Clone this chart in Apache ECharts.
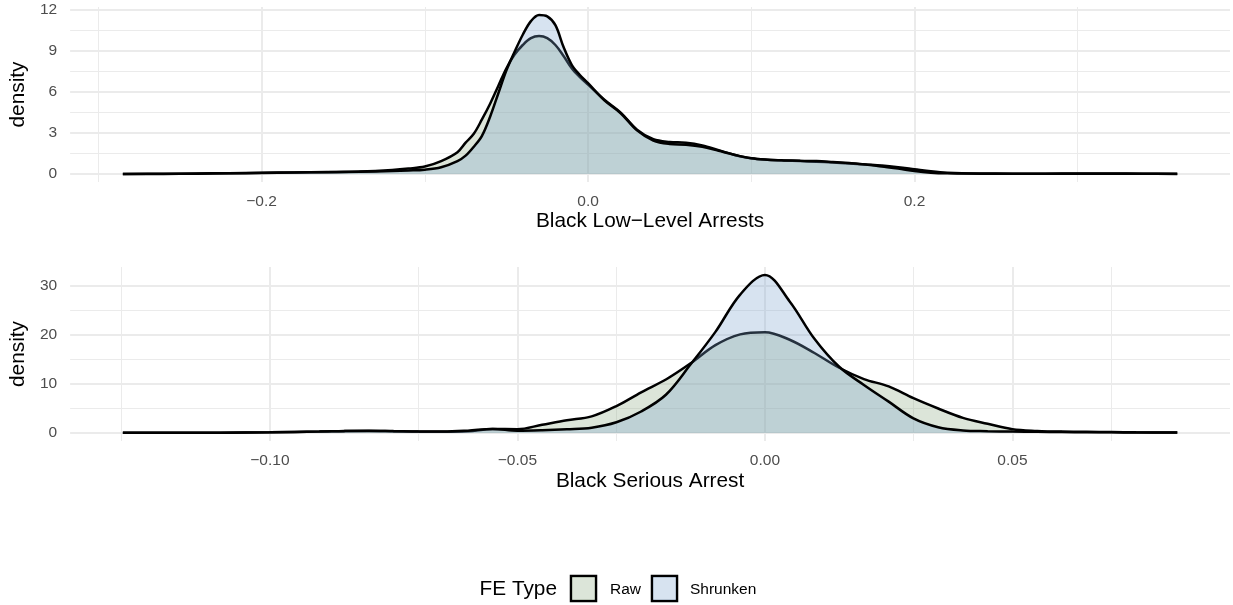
<!DOCTYPE html>
<html>
<head>
<meta charset="utf-8">
<script src="https://cdn.jsdelivr.net/npm/echarts@6/dist/echarts.min.js"></script>
<style>
  html, body { margin: 0; padding: 0; background: #ffffff; }
  #chart { width: 1233px; height: 605px; }
</style>
</head>
<body>
<div id="chart"></div>
<script>
// ---- Black Low-Level Arrests: density estimates of the fixed effects ----
const lowX = [-0.285, -0.26, -0.24, -0.22, -0.20, -0.18, -0.16, -0.14, -0.12, -0.11, -0.10, -0.09, -0.08, -0.075,
  -0.07, -0.065, -0.06, -0.055, -0.05, -0.045, -0.04, -0.035, -0.03, -0.025, -0.02, -0.015, -0.01, -0.005, 0.0,
  0.01, 0.02, 0.03, 0.04, 0.05, 0.06, 0.07, 0.08, 0.09, 0.10, 0.11, 0.12, 0.13, 0.14, 0.15, 0.16, 0.17, 0.18,
  0.19, 0.20, 0.21, 0.22, 0.24, 0.26, 0.28, 0.30, 0.32, 0.34, 0.361];
const lowRaw = [0.01, 0.02, 0.04, 0.06, 0.09, 0.12, 0.15, 0.19, 0.30, 0.40, 0.55, 0.95, 1.6, 2.3,
  2.95, 4.0, 5.15, 6.45, 7.75, 8.75, 9.45, 9.95, 10.1, 9.95, 9.45, 8.65, 7.75, 7.1, 6.55,
  5.45, 4.5, 3.25, 2.55, 2.35, 2.3, 2.1, 1.75, 1.4, 1.15, 1.05, 1.0, 0.95, 0.9, 0.85, 0.78, 0.7, 0.62,
  0.5, 0.35, 0.2, 0.1, 0.04, 0.03, 0.03, 0.04, 0.04, 0.03, 0.02];
const lowShrunken = [0.0, 0.01, 0.03, 0.05, 0.08, 0.11, 0.14, 0.17, 0.22, 0.26, 0.32, 0.5, 0.95, 1.35,
  2.0, 2.8, 4.2, 5.9, 7.6, 8.95, 10.2, 11.2, 11.65, 11.55, 10.9, 9.3, 8.0, 7.25, 6.65,
  5.4, 4.45, 3.2, 2.45, 2.2, 2.15, 2.0, 1.7, 1.4, 1.15, 1.05, 1.0, 0.97, 0.95, 0.88, 0.8, 0.7, 0.55,
  0.4, 0.22, 0.1, 0.05, 0.03, 0.02, 0.03, 0.03, 0.03, 0.02, 0.01];

// ---- Black Serious Arrest ----
const seriousX = [-0.1297, -0.12, -0.11, -0.10, -0.09, -0.085, -0.08, -0.075, -0.07, -0.065, -0.06, -0.055,
  -0.05, -0.045, -0.04, -0.035, -0.03, -0.025, -0.02, -0.015, -0.01, -0.005, 0.0, 0.005, 0.01, 0.015, 0.02,
  0.025, 0.03, 0.035, 0.04, 0.045, 0.05, 0.055, 0.06, 0.065, 0.07, 0.075, 0.0833];
const seriousRaw = [0.05, 0.05, 0.08, 0.15, 0.3, 0.45, 0.5, 0.4, 0.3, 0.25, 0.35, 0.85,
  0.8, 1.7, 2.6, 3.4, 5.5, 8.3, 10.9, 14.2, 17.9, 20.1, 20.55, 19.0, 16.3, 13.3, 11.0,
  9.5, 7.1, 5.0, 3.1, 1.9, 0.8, 0.45, 0.3, 0.25, 0.2, 0.15, 0.1];
const seriousShrunken = [0.05, 0.05, 0.07, 0.15, 0.3, 0.4, 0.45, 0.4, 0.3, 0.3, 0.5, 0.85,
  0.5, 0.6, 0.8, 1.1, 2.2, 4.4, 7.8, 14.0, 20.6, 28.2, 32.2, 26.8, 19.2, 13.5, 9.8,
  6.4, 3.0, 1.2, 0.55, 0.4, 0.3, 0.25, 0.2, 0.18, 0.15, 0.12, 0.1];

// ---- axis ticks ----
const lowXTicks = [-0.2, 0.0, 0.2];
const lowXTickLabels = ['\u22120.2', '0.0', '0.2'];
const lowXMinor = [-0.3, -0.1, 0.1, 0.3];
const lowYTicks = [0, 3, 6, 9, 12];
const lowYTickLabels = ['0', '3', '6', '9', '12'];
const lowYMinor = [1.5, 4.5, 7.5, 10.5];

const seriousXTicks = [-0.10, -0.05, 0.0, 0.05];
const seriousXTickLabels = ['\u22120.10', '\u22120.05', '0.00', '0.05'];
const seriousXMinor = [-0.125, -0.075, -0.025, 0.025, 0.075];
const seriousYTicks = [0, 10, 20, 30];
const seriousYTickLabels = ['0', '10', '20', '30'];
const seriousYMinor = [5, 15, 25];

const groupNames = ['Raw', 'Shrunken'];
const groupColors = ['rgb(138,168,128)', 'rgb(122,162,205)'];
const fillOpacity = 0.3;

const FONT = '"Liberation Sans", Arial, Helvetica, sans-serif';
const GRID_COLOR = '#ebebeb';
const TITLE_SIZE = 20.8;
const TEXT_SIZE = 15.5;
const OUTLINE_WIDTH = 2.5;

// 5% padding on both ends, like a ggplot continuous scale
function padRange(lo, hi) {
  const d = (hi - lo) * 0.05;
  return [lo - d, hi + d];
}
function labelLookup(ticks, labels) {
  return function (v) {
    for (let i = 0; i < ticks.length; i++) {
      if (Math.abs(ticks[i] - v) < 1e-9) return labels[i];
    }
    return '';
  };
}
function pairs(xs, ys) { return xs.map((x, i) => [x, ys[i]]); }

// panel background grid, drawn beneath the densities
function gridSeries(idx, xMajor, xMinor, yMajor, yMinor) {
  const items = [];
  xMinor.forEach(v => items.push({ xAxis: v, lineStyle: { color: GRID_COLOR, width: 1.0, type: 'solid' } }));
  yMinor.forEach(v => items.push({ yAxis: v, lineStyle: { color: GRID_COLOR, width: 1.0, type: 'solid' } }));
  xMajor.forEach(v => items.push({ xAxis: v, lineStyle: { color: GRID_COLOR, width: 2.0, type: 'solid' } }));
  yMajor.forEach(v => items.push({ yAxis: v, lineStyle: { color: GRID_COLOR, width: 2.0, type: 'solid' } }));
  return {
    type: 'line', xAxisIndex: idx, yAxisIndex: idx, data: [], silent: true, z: 0,
    markLine: {
      z: 0, silent: true, symbol: ['none', 'none'], label: { show: false }, animation: false,
      lineStyle: { type: 'solid' }, emphasis: { disabled: true }, data: items
    }
  };
}
function densitySeries(idx, name, xs, ys, color, z) {
  return {
    type: 'line', name: name, xAxisIndex: idx, yAxisIndex: idx, z: z,
    data: pairs(xs, ys), smooth: 0.35, showSymbol: false, symbol: 'none',
    lineStyle: { color: '#000000', width: OUTLINE_WIDTH },
    itemStyle: { color: color },
    areaStyle: { color: color, opacity: fillOpacity, origin: 0 },
    emphasis: { disabled: true }
  };
}
function xAxisFor(idx, xs, ticks, labels, title, gap) {
  const r = padRange(xs[0], xs[xs.length - 1]);
  return {
    type: 'value', gridIndex: idx, min: r[0], max: r[1],
    axisLine: { show: false }, axisTick: { show: false, customValues: ticks }, splitLine: { show: false },
    axisLabel: {
      customValues: ticks, formatter: labelLookup(ticks, labels),
      color: '#4d4d4d', fontSize: TEXT_SIZE, fontFamily: FONT, margin: 12
    },
    name: title, nameLocation: 'middle', nameGap: gap,
    nameTextStyle: { color: '#000000', fontSize: TITLE_SIZE, fontFamily: FONT }
  };
}
function yAxisFor(idx, seriesList, ticks, labels) {
  let hi = 0;
  seriesList.forEach(s => s.forEach(v => { if (v > hi) hi = v; }));
  const r = padRange(0, hi);
  return {
    type: 'value', gridIndex: idx, min: r[0], max: r[1],
    axisLine: { show: false }, axisTick: { show: false, customValues: ticks }, splitLine: { show: false },
    axisLabel: {
      customValues: ticks, formatter: labelLookup(ticks, labels),
      color: '#4d4d4d', fontSize: TEXT_SIZE, fontFamily: FONT, margin: 13
    },
    name: 'density', nameLocation: 'middle', nameGap: 37.5, nameRotate: 90,
    nameTextStyle: { color: '#000000', fontSize: TITLE_SIZE, fontFamily: FONT }
  };
}

// legend: title, two keyed boxes, labels
const legendY = 576, keySize = 25;
const legendKeys = [571, 652];
const legendLabelX = [610, 690];
const legendGraphics = [{
  type: 'text', x: 557, y: legendY + keySize / 2 + 1,
  style: { text: 'FE Type', fill: '#000000', font: TITLE_SIZE + 'px ' + FONT, textAlign: 'right', textVerticalAlign: 'middle' }
}];
groupNames.forEach((name, i) => {
  legendGraphics.push({
    type: 'rect', shape: { x: legendKeys[i], y: legendY, width: keySize, height: keySize },
    style: { fill: groupColors[i], opacity: 1, stroke: '#000000', lineWidth: OUTLINE_WIDTH }
  });
  legendGraphics.push({
    type: 'rect', shape: { x: legendKeys[i] + 1.25, y: legendY + 1.25, width: keySize - 2.5, height: keySize - 2.5 },
    style: { fill: '#ffffff', opacity: 1 - fillOpacity }
  });
  legendGraphics.push({
    type: 'text', x: legendLabelX[i], y: legendY + keySize / 2 + 1,
    style: { text: name, fill: '#000000', font: TEXT_SIZE + 'px ' + FONT, textAlign: 'left', textVerticalAlign: 'middle' }
  });
});

const chart = echarts.init(document.getElementById('chart'), null, { renderer: 'canvas' });
chart.setOption({
  animation: false,
  backgroundColor: '#ffffff',
  textStyle: { fontFamily: FONT },
  grid: [
    { left: 68, right: 3, top: 7, height: 175, containLabel: false },
    { left: 68, right: 3, top: 267, height: 174, containLabel: false }
  ],
  xAxis: [
    xAxisFor(0, lowX, lowXTicks, lowXTickLabels, 'Black Low\u2212Level Arrests', 28),
    xAxisFor(1, seriousX, seriousXTicks, seriousXTickLabels, 'Black Serious Arrest', 30)
  ],
  yAxis: [
    yAxisFor(0, [lowRaw, lowShrunken], lowYTicks, lowYTickLabels),
    yAxisFor(1, [seriousRaw, seriousShrunken], seriousYTicks, seriousYTickLabels)
  ],
  series: [
    gridSeries(0, lowXTicks, lowXMinor, lowYTicks, lowYMinor),
    gridSeries(1, seriousXTicks, seriousXMinor, seriousYTicks, seriousYMinor),
    densitySeries(0, groupNames[0], lowX, lowRaw, groupColors[0], 2),
    densitySeries(0, groupNames[1], lowX, lowShrunken, groupColors[1], 3),
    densitySeries(1, groupNames[0], seriousX, seriousRaw, groupColors[0], 2),
    densitySeries(1, groupNames[1], seriousX, seriousShrunken, groupColors[1], 3)
  ],
  graphic: legendGraphics
});
</script>
</body>
</html>
